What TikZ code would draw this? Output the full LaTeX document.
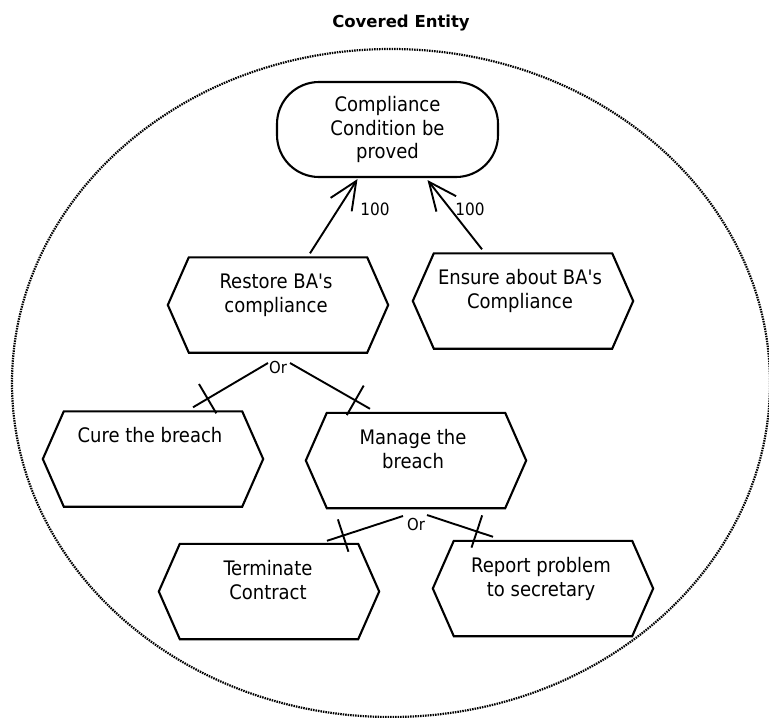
\documentclass[tikz,border=0pt]{standalone}
\usepackage{fontspec}
\newfontfamily\nodefont{DejaVu Sans Condensed}
\newfontfamily\titlefont{DejaVu Sans}
\usetikzlibrary{arrows.meta,calc}
\newcommand\hexpath[1]{%
  \draw[hexline] ([xshift=21pt]#1.north west) -- ([xshift=-21pt]#1.north east) -- (#1.east)
    -- ([xshift=-21pt]#1.south east) -- ([xshift=21pt]#1.south west) -- (#1.west) -- cycle;}
\newcommand\orlink[2]{%
  \draw[conn] (#1) -- (#2);
  \coordinate (#2m) at ($(#2)!17pt!(#1)$);
  \draw[conn] ($(#2m)!17pt!90:(#2)$) -- ($(#2m)!17pt!-90:(#2)$);}
\begin{document}
\begin{tikzpicture}[x=1pt,y=-1pt,
  stadium/.style={draw, line width=2.1pt, rounded corners=42pt, minimum width=221pt,
    minimum height=95pt, inner sep=0pt, align=center,
    font=\nodefont\fontsize{20}{23.5}\selectfont},
  hexbox/.style={minimum width=220pt, minimum height=95pt, inner sep=0pt},
  hexline/.style={line width=2.1pt, line join=miter},
  hextext/.style={anchor=north, inner sep=0pt, align=center,
    font=\nodefont\fontsize{20}{24}\selectfont},
  arr/.style={line width=1.9pt, -{Straight Barb[length=28pt,width=25pt,line width=1.9pt]}},
  conn/.style={line width=1.9pt},
  lab/.style={anchor=base, inner sep=0pt, font=\nodefont\fontsize{17}{19}\selectfont},
  orlab/.style={anchor=base, inner sep=0pt, font=\nodefont\fontsize{16.5}{19}\selectfont}
]
\useasboundingbox (0,0) rectangle (769,718);
\fill[white] (0,0) rectangle (769,718);

% title and boundary
\node[anchor=base, inner sep=0pt, font=\titlefont\bfseries\fontsize{16.5}{19}\selectfont] (title) at (401,27) {Covered Entity};
\draw[line width=2.2pt, dash pattern=on 1.5pt off 1pt] (391,383) ellipse [x radius=379, y radius=334];

% goal
\node[stadium] (top) at (387.5,129.5) {Compliance\\Condition be\\proved};

% hexagon tasks
\node[hexbox] (restore) at (278,305) {};
\node[hexbox] (ensure) at (523,301) {};
\node[hexbox] (cure) at (153,459) {};
\node[hexbox] (manage) at (416,460.5) {};
\node[hexbox] (terminate) at (269,591.5) {};
\node[hexbox] (report) at (543,588.5) {};
\hexpath{restore}
\hexpath{ensure}
\hexpath{cure}
\hexpath{manage}
\hexpath{terminate}
\hexpath{report}

\node[hextext] (restoreT) at ($(restore.north)+(-2,14.2)$) {\strut Restore BA's\\compliance};
\node[hextext] (ensureT) at ($(ensure.north)+(-3,14.2)$) {\strut Ensure about BA's\\Compliance};
\node[hextext] (cureT) at ($(cure.north)+(-3,14.2)$) {\strut Cure the breach};
\node[hextext] (manageT) at ($(manage.north)+(-3,14.2)$) {\strut Manage the\\breach};
\node[hextext] (terminateT) at ($(terminate.north)+(-1,14.2)$) {\strut Terminate\\Contract};
\node[hextext] (reportT) at ($(report.north)+(-2,14.2)$) {\strut Report problem\\to secretary};

% contributions to the goal
\draw[arr] ($(restore.north)+(32,-4)$) -- ($(top.south)+(-30,1)$);
\draw[arr] ($(ensure.north)+(-41,-4)$) -- ($(top.south)+(40,2)$);
\node[lab] (l1) at (375,215) {100};
\node[lab] (l2) at (470,215) {100};

% Or decompositions
\node[orlab] (or1) at (278,373) {Or};
\node[orlab] (or2) at (416,530) {Or};
\coordinate (s1) at ($(or1.base)+(-10,-10)$);
\coordinate (s2) at ($(or1.base)+(12,-10)$);
\coordinate (s3) at ($(or2.base)+(-13,-14)$);
\coordinate (s4) at ($(or2.base)+(11,-15)$);
\coordinate (e1) at ($(cure.north)+(40,-4)$);
\coordinate (e2) at ($(manage.north)+(-46,-4)$);
\coordinate (e3) at ($(terminate.north)+(58,-3)$);
\coordinate (e4) at ($(report.north)+(-50,-4)$);
\orlink{s1}{e1}
\orlink{s2}{e2}
\orlink{s3}{e3}
\orlink{s4}{e4}
\end{tikzpicture}
\end{document}
